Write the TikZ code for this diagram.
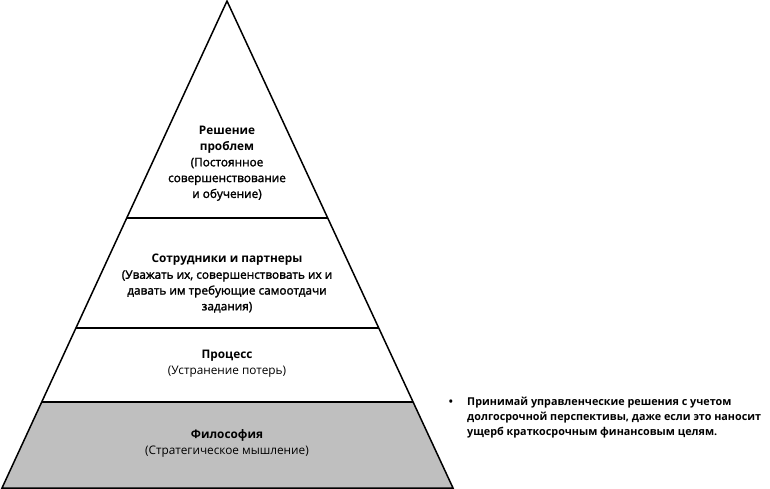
\documentclass[tikz,border=0pt]{standalone}
\usepackage{fontspec}
\setmainfont{Open Sans}
\newfontfamily\semib{Open Sans}[FakeBold=1.8]
\usetikzlibrary{positioning, calc}

\definecolor{basegray}{HTML}{BFBFBF}

\tikzset{
    layertext/.style={align=center, font=\fontsize{11.8}{15.8}\selectfont, inner sep=0pt},
    notetext/.style={align=left, font=\fontsize{10.8}{15}\selectfont\bfseries, inner sep=0pt},
    edge/.style={line width=1.5pt, line join=miter}
}

\begin{document}
\begin{tikzpicture}[x=1pt, y=-1pt]
        \useasboundingbox (0,0) rectangle (770,489);
        \coordinate (apex) at (227,1);
        \coordinate (bl) at (2,488);
        \coordinate (br) at (453,488);

        \foreach \i/\t in {1/0.4456, 2/0.671, 3/0.823} {
            \path (apex) -- (bl) coordinate[pos=\t] (l\i);
            \path (apex) -- (br) coordinate[pos=\t] (r\i);
        }

        \fill[basegray] (l3) -- (r3) -- (br) -- (bl) -- cycle;
        \draw[edge] (apex) -- (bl) -- (br) -- cycle;
        \foreach \i in {1,2,3} {
            \draw[edge] (l\i) -- (r\i);
        }

        \node[layertext] (top) at (227,163.5) {\textbf{Решение}\\\textbf{проблем}\\{\semib (Постоянное}\\{\semib совершенствование}\\{\semib и обучение)}};
        \node[layertext] (people) at (227,283.5) {\textbf{Сотрудники и партнеры}\\{\semib (Уважать их, совершенствовать их и}\\{\semib давать им требующие самоотдачи}\\{\semib задания)}};
        \node[layertext] (process) at (227,364) {\textbf{Процесс}\\(Устранение потерь)};
        \node[layertext] (base) at (227,443.5) {\textbf{Философия}\\(Стратегическое мышление)};

        \node[notetext, anchor=center] (bullet) at (451,403) {•};
        \node[notetext, anchor=west] (note) at (467,418) {Принимай управленческие решения с учетом\\долгосрочной перспективы, даже если это наносит\\ущерб краткосрочным финансовым целям.};
    \end{tikzpicture}
\end{document}
